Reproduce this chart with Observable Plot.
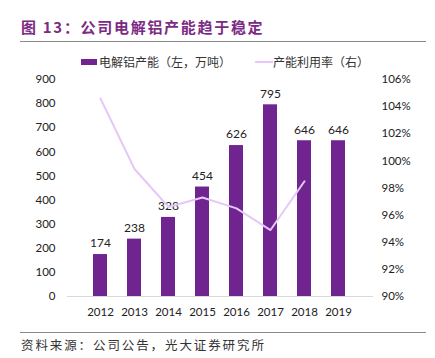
<!DOCTYPE html>
<html><head><meta charset="utf-8">
<script src="https://cdn.jsdelivr.net/npm/d3@7"></script>
<script src="https://cdn.jsdelivr.net/npm/@observablehq/plot@0.6"></script>
<style>
body{margin:0;background:#fff;font-family:"Noto Sans CJK SC","Noto Sans",sans-serif;}
#wrap{position:relative;width:435px;height:358px;overflow:hidden;}
.abs{position:absolute;white-space:nowrap;}
#title{left:21px;top:16px;font-size:15px;font-weight:bold;color:#7B2B84;letter-spacing:1.7px;line-height:22px;}
.rule{left:20px;width:406px;height:0;border-top:1.5px solid #8a8a8a;}
#legend{left:81px;top:52px;font-size:12px;color:#333;line-height:20px;display:flex;align-items:center;}
.sw{display:inline-block;}
#src{left:21px;top:336px;font-size:12.5px;color:#333;letter-spacing:1.9px;line-height:18px;}
#chart{position:absolute;left:0;top:0;}
</style></head>
<body><div id="wrap">
<div id="title" class="abs">图 13：公司电解铝产能趋于稳定</div>
<div class="abs rule" style="top:41px"></div>
<div id="legend" class="abs"><span class="sw" style="width:16px;height:6px;background:#70248F;margin-right:2px"></span><span>电解铝产能（左，万吨）</span><span class="sw" style="width:18px;height:0;border-top:2px solid #E6C8F8;margin-left:24px"></span><span>产能利用率（右）</span></div>
<div id="chart"></div>
<div class="abs rule" style="top:332px"></div>
<div id="src" class="abs">资料来源：公司公告，光大证券研究所</div>
</div>
<script>
const years = ["2012","2013","2014","2015","2016","2017","2018","2019"];
const capacity = [174,238,328,454,626,795,646,646];
const utilization = [104.6,99.4,96.6,97.3,96.5,94.9,98.5,null];
const leftTicks = [0,100,200,300,400,500,600,700,800,900];
const rightTicks = [90,92,94,96,98,100,102,104,106];

const rMin = 90, rMax = 106, lMax = 900;
const toLeft = v => (v - rMin) / (rMax - rMin) * lMax;

const bars = years.map((y,i)=>({year:y, value:capacity[i]}));
const line = years.map((y,i)=>({year:y, value:utilization[i]})).filter(d=>d.value!=null);

const chart = Plot.plot({
  width:435, height:358,
  marginTop:79, marginBottom:62, marginLeft:69, marginRight:66,
  style:{fontFamily:"Lato, 'Noto Sans', sans-serif", fontSize:"11.5px", color:"#333", background:"transparent"},
  x:{domain:years, padding:0.59, label:null},
  y:{domain:[0,lMax], label:null},
  marks:[
    Plot.barY(bars,{x:"year", y:"value", fill:"#70248F"}),
    Plot.ruleY([0],{stroke:"#d9d9d9", strokeWidth:1, insetLeft:-2, insetRight:-4}),
    Plot.text(bars,{x:"year", y:"value", text:d=>String(d.value), dy:-11, fill:"#222", fontSize:12}),
    Plot.line(line,{x:"year", y:d=>toLeft(d.value), stroke:"#E6C8F8", strokeWidth:2}),
    Plot.axisY(leftTicks,{anchor:"left", tickSize:0, tickPadding:14, label:null, fill:"#222"}),
    Plot.axisY(rightTicks.map(toLeft),{anchor:"right", tickSize:0, tickPadding:12, label:null, fill:"#222",
      tickFormat:(d)=>Math.round(d/lMax*(rMax-rMin)+rMin)+"%"}),
    Plot.axisX({tickSize:0, tickPadding:11, label:null, fill:"#222"})
  ]
});
document.getElementById("chart").appendChild(chart);
</script>
</body></html>
